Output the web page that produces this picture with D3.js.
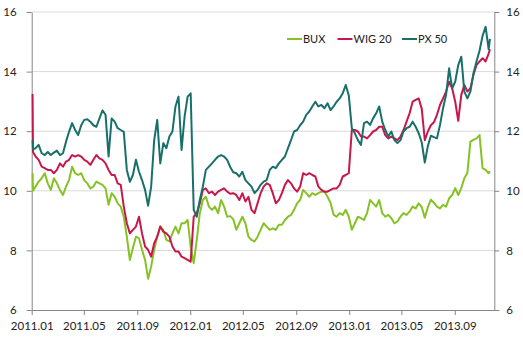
<!DOCTYPE html>
<html>
<head>
<meta charset="utf-8">
<script src="https://cdn.jsdelivr.net/npm/d3@7"></script>
<style>
  html, body { margin: 0; padding: 0; background: #fff; }
  svg { display: block; font-family: Lato, "Open Sans", sans-serif; }
</style>
</head>
<body>
<svg id="chart" width="523" height="341"></svg>
<script>
// Weekly observation dates (plus the first session after the open)
const dates = [
  "2011-01-03","2011-01-04","2011-01-10","2011-01-17","2011-01-24","2011-01-31","2011-02-07","2011-02-14","2011-02-21","2011-02-28",
  "2011-03-07","2011-03-14","2011-03-21","2011-03-28","2011-04-04","2011-04-11","2011-04-18","2011-04-25","2011-05-02","2011-05-09",
  "2011-05-16","2011-05-23","2011-05-30","2011-06-06","2011-06-13","2011-06-20","2011-06-27","2011-07-04","2011-07-11","2011-07-18",
  "2011-07-25","2011-08-01","2011-08-08","2011-08-15","2011-08-22","2011-08-29","2011-09-05","2011-09-12","2011-09-19","2011-09-26",
  "2011-10-03","2011-10-10","2011-10-17","2011-10-24","2011-10-31","2011-11-07","2011-11-14","2011-11-21","2011-11-28","2011-12-05",
  "2011-12-12","2011-12-19","2011-12-26",
  "2012-01-02","2012-01-09","2012-01-16","2012-01-23","2012-01-30","2012-02-06","2012-02-13","2012-02-20","2012-02-27","2012-03-05",
  "2012-03-12","2012-03-19","2012-03-26","2012-04-02","2012-04-09","2012-04-16","2012-04-23","2012-04-30","2012-05-07","2012-05-14",
  "2012-05-21","2012-05-28","2012-06-04","2012-06-11","2012-06-18","2012-06-25","2012-07-02","2012-07-09","2012-07-16","2012-07-23",
  "2012-07-30","2012-08-06","2012-08-13","2012-08-20","2012-08-27","2012-09-03","2012-09-10","2012-09-17","2012-09-24","2012-10-01",
  "2012-10-08","2012-10-15","2012-10-22","2012-10-29","2012-11-05","2012-11-12","2012-11-19","2012-11-26","2012-12-03","2012-12-10",
  "2012-12-17","2012-12-24","2012-12-31",
  "2013-01-07","2013-01-14","2013-01-21","2013-01-28","2013-02-04","2013-02-11","2013-02-18","2013-02-25","2013-03-04","2013-03-11",
  "2013-03-18","2013-03-25","2013-04-01","2013-04-08","2013-04-15","2013-04-22","2013-04-29","2013-05-06","2013-05-13","2013-05-20",
  "2013-05-27","2013-06-03","2013-06-10","2013-06-17","2013-06-24","2013-07-01","2013-07-08","2013-07-15","2013-07-22","2013-07-29",
  "2013-08-05","2013-08-12","2013-08-19","2013-08-26","2013-09-02","2013-09-09","2013-09-16","2013-09-23","2013-09-30","2013-10-07",
  "2013-10-14","2013-10-21","2013-10-28","2013-11-04","2013-11-11","2013-11-18","2013-11-21"
];

const bux = [
  10.6,10.0,10.14,10.31,10.42,10.59,10.25,10.03,10.42,10.25,
  10.03,9.86,10.14,10.36,10.81,10.59,10.53,10.59,10.36,10.25,
  10.08,10.14,10.31,10.25,10.2,10.08,9.53,9.92,9.8,9.58,
  9.47,9.13,8.46,7.68,8.08,8.46,8.41,8.02,7.68,7.05,
  7.46,8.02,8.46,8.8,8.69,8.35,8.3,8.57,8.8,8.57,
  8.91,8.91,9.02,
  8.13,7.57,8.35,9.25,9.69,9.8,9.47,9.36,9.47,9.25,
  9.69,9.47,9.13,9.15,9.05,8.69,8.91,9.13,8.91,8.46,
  8.35,8.3,8.46,8.69,8.91,8.8,8.69,8.74,8.69,8.86,
  8.86,9.02,9.13,9.19,9.36,9.58,9.69,10.03,9.92,9.8,
  9.92,9.86,9.92,9.97,9.97,9.8,9.6,9.2,9.13,9.25,
  9.19,9.36,9.13,
  8.69,8.91,9.13,9.08,9.02,9.25,9.69,9.58,9.47,9.69,
  9.25,9.13,9.19,9.08,8.91,8.97,9.13,9.25,9.19,9.3,
  9.47,9.41,9.58,9.45,9.1,9.45,9.7,9.6,9.47,9.41,
  9.53,9.47,9.75,9.86,10.09,9.86,10.09,10.42,10.6,11.65,
  11.71,11.76,11.87,10.76,10.7,10.59,10.65
];

const wig20 = [
  13.25,11.3,11.15,11.04,10.81,10.76,10.7,10.7,10.59,10.7,
  10.92,10.81,10.98,11.04,11.2,11.15,11.2,11.15,11.04,10.98,
  10.87,11.04,11.2,11.09,11.04,10.92,10.7,10.53,10.53,10.25,
  10.2,9.47,8.91,8.57,8.69,8.8,9.13,8.57,8.13,8.02,
  7.79,8.24,8.46,8.8,8.63,8.57,8.46,8.13,7.96,7.96,
  7.79,7.74,7.68,
  7.62,9.13,9.25,9.58,10.03,10.08,9.92,9.97,9.86,9.97,
  10.03,10.08,9.97,9.9,9.92,9.86,9.69,9.92,9.64,9.8,
  9.36,9.25,9.58,9.92,10.14,10.25,10.2,9.92,9.58,9.69,
  9.92,10.2,10.36,10.25,10.08,9.97,10.14,10.59,10.53,10.59,
  10.53,10.48,10.14,10.03,9.97,9.97,10.03,10.08,10.08,10.2,
  10.48,10.53,10.59,
  12.04,12.04,11.99,11.82,11.82,11.76,11.87,11.99,12.04,12.15,
  12.15,11.87,11.76,11.82,11.76,11.7,11.82,12.04,12.32,12.6,
  12.99,13.05,13.1,12.75,11.7,11.99,12.2,12.3,12.55,12.88,
  13.1,13.33,13.66,13.44,12.99,12.35,13.22,13.55,13.33,13.44,
  13.89,14.22,14.34,14.45,14.34,14.6,14.75
];

const px50 = [
  11.7,11.4,11.43,11.54,11.26,11.2,11.3,11.2,11.28,11.35,
  11.2,11.26,11.65,11.98,12.27,12.04,11.87,12.2,12.38,12.4,
  12.32,12.2,12.15,12.43,12.7,12.55,11.15,12.43,12.32,12.1,
  12.04,11.98,10.7,10.3,10.53,11.04,10.64,10.36,10.03,9.5,
  10.14,11.7,12.38,10.92,11.6,11.43,11.82,11.99,12.83,13.16,
  11.37,12.49,13.16,
  13.27,9.36,9.13,9.69,10.14,10.7,10.81,10.92,11.04,11.15,
  11.2,11.15,11.04,10.8,10.62,10.59,10.48,10.64,10.36,10.25,
  10.14,9.92,10.03,10.2,10.31,10.36,10.7,10.81,10.76,10.92,
  11.04,11.15,11.43,11.7,11.99,12.04,12.2,12.32,12.55,12.66,
  12.83,12.99,12.83,12.88,12.77,12.94,12.71,12.83,12.99,13.1,
  13.27,13.55,13.2,
  12.1,11.93,11.7,11.54,12.27,12.32,12.21,12.43,12.6,12.83,
  12.32,12.04,11.82,11.99,11.7,11.6,11.7,11.99,12.1,12.15,
  12.32,12.15,11.93,11.62,10.95,11.5,11.85,11.8,11.76,12.21,
  12.77,13.22,14.11,13.44,13.66,14.22,14.5,13.33,13.1,13.33,
  13.94,14.34,14.7,15.2,15.5,14.75,15.1
];

const seriesNames = ["BUX", "WIG 20", "PX 50"];
const seriesColors = ["#86c226", "#c8174a", "#17706a"];
const yTicks = [6, 8, 10, 12, 14, 16];
const xTickLabels = ["2011.01","2011.05","2011.09","2012.01","2012.05","2012.09","2013.01","2013.05","2013.09"];

const parse = d3.timeParse("%Y-%m-%d");
const dateVals = dates.map(parse);
const series = [bux, wig20, px50].map((vals, i) => ({
  name: seriesNames[i],
  color: seriesColors[i],
  points: vals.map((v, j) => ({ date: dateVals[j], value: v }))
}));

const svg = d3.select("#chart");
const margin = { left: 31.7, right: 523 - 494.3, top: 12, bottom: 341 - 310 };
const width = 523 - margin.left - margin.right;
const height = 341 - margin.top - margin.bottom;

const x = d3.scaleTime()
  .domain([new Date(2011, 0, 1), new Date(2013, 11, 1)])
  .range([margin.left, margin.left + width]);
const y = d3.scaleLinear()
  .domain([6, 16])
  .range([margin.top + height, margin.top]);

const tickDates = xTickLabels.map(s => { const [yy, mm] = s.split("."); return new Date(+yy, +mm - 1, 1); });

// horizontal gridlines
svg.append("g")
  .selectAll("line")
  .data(yTicks.filter(d => d > 6))
  .join("line")
  .attr("x1", x.range()[0]).attr("x2", x.range()[1])
  .attr("y1", d => y(d)).attr("y2", d => y(d))
  .attr("stroke", "#d9d9d9").attr("stroke-width", 1);

// axes
const axisColor = "#868686";
const styleAxis = g => {
  g.selectAll(".domain").attr("stroke", axisColor);
  g.selectAll(".tick line").attr("stroke", axisColor);
  g.selectAll(".tick text").attr("fill", "#222").style("font-size", "11.5px")
    .style("font-family", "Lato, 'Open Sans', sans-serif");
};

svg.append("g")
  .attr("transform", `translate(0,${y(6)})`)
  .call(d3.axisBottom(x).tickValues(tickDates)
    .tickFormat((d, i) => xTickLabels[i]).tickSize(5).tickSizeOuter(0).tickPadding(7))
  .call(styleAxis);

svg.append("g")
  .attr("transform", `translate(${x.range()[0]},0)`)
  .call(d3.axisLeft(y).tickValues(yTicks).tickFormat(d3.format("d"))
    .tickSize(5).tickSizeOuter(0).tickPadding(10))
  .call(styleAxis);

svg.append("g")
  .attr("transform", `translate(${x.range()[1]},0)`)
  .call(d3.axisRight(y).tickValues(yTicks).tickFormat(d3.format("d"))
    .tickSize(5).tickSizeOuter(0).tickPadding(7))
  .call(styleAxis);

// series lines
const line = d3.line()
  .x(d => x(d.date))
  .y(d => y(d.value));

svg.append("g")
  .selectAll("path")
  .data(series)
  .join("path")
  .attr("d", d => line(d.points))
  .attr("fill", "none")
  .attr("stroke", d => d.color)
  .attr("stroke-width", 2)
  .attr("stroke-linejoin", "round");

// legend
const legendX = [287, 337.5, 402];
const legend = svg.append("g").selectAll("g")
  .data(series)
  .join("g")
  .attr("transform", (d, i) => `translate(${legendX[i]},39)`);
legend.append("line")
  .attr("x1", 0).attr("x2", 15)
  .attr("stroke", d => d.color).attr("stroke-width", 2);
legend.append("text")
  .attr("x", 16).attr("dy", "0.35em")
  .attr("fill", "#222")
  .style("font-size", "11px")
  .text(d => d.name);
</script>
</body>
</html>
